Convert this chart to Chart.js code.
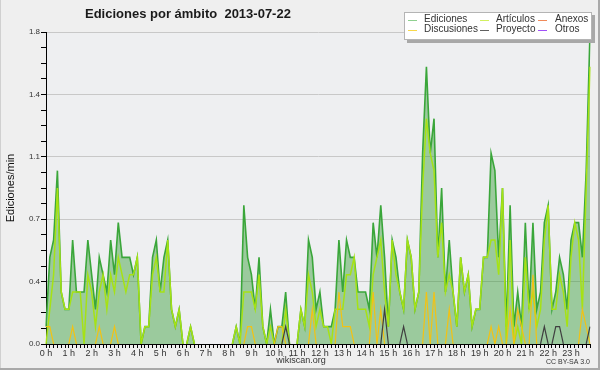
<!DOCTYPE html>
<html>
<head>
<meta charset="utf-8">
<script src="https://cdn.jsdelivr.net/npm/chart.js@4"></script>
<style>
html,body{margin:0;padding:0;background:#efefef;}
#wrap{width:600px;height:370px;position:relative;}
canvas{display:block;}
</style>
</head>
<body>
<div id="wrap"><canvas id="c" width="600" height="370"></canvas></div>
<script>
// ---- data ----
const chartTitle = 'Ediciones por ámbito  2013-07-22';
const yAxisTitle = 'Ediciones/min';
const hourLabels = ['0 h','1 h','2 h','3 h','4 h','5 h','6 h','7 h','8 h','9 h','10 h','11 h',
  '12 h','13 h','14 h','15 h','16 h','17 h','18 h','19 h','20 h','21 h','22 h','23 h'];
const seriesNames = ['Ediciones','Artículos','Anexos','Discusiones','Proyecto','Otros'];

// 10-minute slots (categories)
const slots = [];
for (let h = 0; h < 24; h++) {
  for (let m = 0; m < 60; m += 10) {
    slots.push(String(h).padStart(2,'0') + ':' + String(m).padStart(2,'0'));
  }
}

const ediciones = [
  0.1,0.5,0.6,1.0,0.3,0.2,0.2,0.6,0.3,0.3,0.3,0.6,
  0.4,0.2,0.5,0.4,0.3,0.6,0.4,0.7,0.5,0.5,0.5,0.4,
  0.5,0,0.1,0.1,0.5,0.6,0.3,0.5,0.6,0.2,0.1,0.2,
  0,0,0.1,0,0,0,0,0,0,0,0,0,
  0,0,0.1,0,0.8,0.5,0.4,0.2,0.5,0.1,0,0.2,
  0,0.1,0.1,0.3,0,0,0,0.2,0.1,0.6,0.5,0.2,
  0.3,0.1,0.1,0.1,0.2,0.6,0.3,0.6,0.5,0.5,0.3,0.3,
  0.3,0.2,0.7,0.5,0.8,0.5,0.1,0.6,0.5,0.3,0.2,0.6,
  0.5,0.2,0.3,1.1,1.6,1.1,1.3,0.5,0.9,0.3,0.6,0.3,
  0.1,0.5,0.3,0.4,0.1,0.2,0.2,0.5,0.5,1.1,1.0,0.5,
  0.9,0.1,0.8,0.1,0.3,0.1,0.7,0.2,0.7,0.2,0.3,0.7,
  0.8,0.2,0.3,0.5,0.4,0.2,0.6,0.7,0.7,0.5,1.0,1.8
];
const articulos = [
  0,0.2,0.4,0.9,0.3,0.2,0.2,0.3,0.3,0.3,0,0.4,
  0.3,0.1,0.3,0.4,0.2,0.4,0.3,0.5,0.4,0.3,0.4,0.4,
  0.5,0,0.1,0.1,0.4,0.5,0.3,0.3,0.6,0.2,0.1,0.2,
  0,0,0.1,0,0,0,0,0,0,0,0,0,
  0,0,0.1,0,0.3,0.3,0.3,0.2,0.4,0.1,0,0.1,
  0,0,0,0.2,0,0,0,0.2,0.1,0.4,0.3,0.1,
  0.2,0.1,0.1,0,0.2,0.2,0.2,0.4,0.4,0.5,0.2,0.2,
  0.2,0.1,0.4,0.5,0.6,0.3,0.1,0.6,0.4,0.3,0.2,0.6,
  0.5,0.2,0.3,0.9,1.3,1.1,1.0,0.5,0.7,0.3,0.4,0.3,
  0.1,0.5,0.3,0.4,0.1,0.2,0.2,0.5,0.5,0.6,0.6,0.4,
  0.9,0,0.6,0,0.1,0,0.5,0.2,0.3,0.1,0.2,0.6,
  0.8,0.2,0.2,0.4,0.3,0.1,0.5,0.7,0.6,0.2,0.9,1.6
];
const discusiones = [
  0.1,0.1,0,0,0,0,0,0.1,0,0,0,0,
  0,0,0.1,0,0,0,0.1,0,0,0,0,0,
  0,0,0,0,0,0,0,0,0,0,0,0,
  0,0,0,0,0,0,0,0,0,0,0,0,
  0,0,0,0,0,0.1,0.1,0,0,0,0,0,
  0,0.1,0.1,0,0,0,0,0,0,0,0.2,0,
  0,0,0,0,0,0.3,0.1,0.1,0.1,0,0,0,
  0,0,0.3,0,0.2,0,0,0,0,0,0,0,
  0,0,0,0,0.3,0,0.3,0,0,0,0.2,0,
  0,0,0,0,0,0,0,0,0,0.1,0,0.1,
  0,0,0.2,0,0.2,0.1,0,0,0.4,0,0,0,
  0,0,0,0,0,0,0,0,0,0.2,0.1,0
];
const proyecto = [
  0,0,0,0,0,0,0,0,0,0,0,0,
  0,0,0,0,0,0,0,0,0,0,0,0,
  0,0,0,0,0,0,0,0,0,0,0,0,
  0,0,0,0,0,0,0,0,0,0,0,0,
  0,0,0,0,0,0,0,0,0,0,0,0,
  0,0,0,0.1,0,0,0,0,0,0,0,0,
  0,0,0,0,0,0,0,0,0,0,0,0,
  0,0,0,0,0,0.2,0,0,0,0,0.1,0,
  0,0,0,0,0,0,0,0,0,0,0,0,
  0,0,0,0,0,0,0,0,0,0,0,0,
  0,0,0,0,0,0,0,0,0,0,0,0.1,
  0,0,0.1,0.1,0,0,0,0,0,0,0,0.1
];
const anexos = [
  0,0,0,0,0,0,0,0,0,0,0,0, 0,0,0,0,0,0,0,0,0,0,0,0,
  0,0,0,0,0,0,0,0,0,0,0,0, 0,0,0,0,0,0,0,0,0,0,0,0,
  0,0,0,0,0,0,0,0,0,0,0,0, 0,0,0,0,0,0,0,0,0,0,0,0,
  0,0,0,0,0,0,0,0,0,0,0,0, 0,0,0,0,0,0,0,0,0,0,0,0,
  0,0,0,0,0,0,0,0,0,0,0,0, 0,0,0,0,0,0,0,0,0,0,0,0,
  0,0,0,0,0,0,0,0,0,0,0,0, 0,0,0,0,0,0,0,0,0,0,0,0
];
const otros = [
  0,0,0,0,0,0,0,0,0,0,0,0, 0,0,0,0,0,0,0,0,0,0,0,0,
  0,0,0,0,0,0,0,0,0,0,0,0, 0,0,0,0,0,0,0,0,0,0,0,0,
  0,0,0,0,0,0,0,0,0,0,0,0, 0,0,0,0,0,0,0,0,0,0,0,0,
  0,0,0,0,0,0,0,0,0,0,0,0, 0,0,0,0,0,0,0,0,0,0,0,0,
  0,0,0,0,0,0,0,0,0,0,0,0, 0,0,0,0,0,0,0,0,0,0,0,0,
  0,0,0,0,0,0,0,0,0,0,0,0, 0,0,0,0,0,0,0,0,0,0,0,0
];

// ---- styles ----
const lineColors = {
  'Ediciones':'#3aa63a','Artículos':'#a6e214','Anexos':'#ee7040',
  'Discusiones':'#f2c214','Proyecto':'#404040','Otros':'#9a3cf0'
};
const legendColors = {
  'Ediciones':'#8fd08f','Artículos':'#d2f060','Anexos':'#f08a5a',
  'Discusiones':'#f8d84a','Proyecto':'#606060','Otros':'#a050f8'
};
const hideZero = {
  borderColor: c => (c.p0.parsed.y === 0 && c.p1.parsed.y === 0) ? 'rgba(0,0,0,0)' : undefined
};
function ds(label, data, width, order, extra) {
  return Object.assign({
    label, data, order,
    borderColor: lineColors[label],
    borderWidth: width,
    pointRadius: 0, pointHoverRadius: 0,
    tension: 0, fill: false,
    segment: hideZero
  }, extra || {});
}

const deco = {
  id: 'deco',
  beforeDraw(chart) {
    const {ctx, chartArea: a} = chart;
    ctx.save();
    ctx.fillStyle = '#efefef';
    ctx.fillRect(0, 0, chart.width, chart.height);
    ctx.fillStyle = '#eeeff1';
    ctx.fillRect(a.left, a.top, a.right - a.left, a.bottom - a.top);
    ctx.restore();
  },
  afterDraw(chart) {
    const ctx = chart.ctx;
    ctx.save();
    // title
    ctx.fillStyle = '#1a1a1a';
    ctx.font = 'bold 13px "Liberation Sans", Arial, sans-serif';
    ctx.textBaseline = 'alphabetic';
    ctx.textAlign = 'left';
    ctx.fillText(chartTitle, 85, 18);
    // legend box
    ctx.fillStyle = '#a8a8a8';
    ctx.fillRect(407, 15, 188, 28);
    ctx.fillStyle = '#ffffff';
    ctx.fillRect(404, 12, 188, 28);
    ctx.strokeStyle = '#b4b4b4';
    ctx.lineWidth = 1;
    ctx.strokeRect(404.5, 12.5, 187, 27);
    const colX = [408, 480, 538], txtX = [424, 496, 555], rowY = [19.5, 29.5];
    ctx.font = '10px "Liberation Sans", Arial, sans-serif';
    ctx.textBaseline = 'middle';
    seriesNames.forEach((name, i) => {
      const col = i % 3, row = Math.floor(i / 3);
      ctx.strokeStyle = legendColors[name];
      ctx.beginPath();
      ctx.moveTo(colX[col], Math.round(rowY[row]) + 0.5);
      ctx.lineTo(colX[col] + 9, Math.round(rowY[row]) + 0.5);
      ctx.stroke();
      ctx.fillStyle = '#333';
      ctx.fillText(name, txtX[col], rowY[row]);
    });
    // footer
    ctx.fillStyle = '#333';
    ctx.font = '9px "Liberation Sans", Arial, sans-serif';
    ctx.textAlign = 'center';
    ctx.fillText('wikiscan.org', 301, 361);
    ctx.font = '7px "Liberation Sans", Arial, sans-serif';
    ctx.textAlign = 'right';
    ctx.fillText('CC BY-SA 3.0', 590, 362);
    // frame
    ctx.fillStyle = '#a9a9a9';
    ctx.fillRect(598, 0, 2, 370);
    ctx.fillRect(0, 368, 600, 2);
    ctx.fillStyle = '#d0d0d0';
    ctx.fillRect(0, 0, 1, 368);
    ctx.restore();
  }
};

new Chart(document.getElementById('c'), {
  type: 'line',
  data: {
    labels: slots,
    datasets: [
      ds('Ediciones', ediciones, 1.6, 10, {fill: 'origin', backgroundColor: 'rgba(40,150,40,0.42)'}),
      ds('Artículos', articulos, 1.5, 5),
      ds('Anexos', anexos, 1, 4),
      ds('Discusiones', discusiones, 1.2, 3),
      ds('Proyecto', proyecto, 1.2, 2),
      ds('Otros', otros, 1, 1)
    ]
  },
  options: {
    responsive: false,
    devicePixelRatio: 1,
    animation: false,
    events: [],
    layout: {padding: {top: 32, right: 10, left: 0, bottom: 0}},
    plugins: {legend: {display: false}, title: {display: false}, tooltip: {enabled: false}},
    scales: {
      x: {
        type: 'category',
        offset: false,
        z: 1,
        grid: {drawOnChartArea: false, drawTicks: true, tickLength: 4, tickColor: '#000', tickWidth: 1},
        border: {color: '#000', width: 1},
        ticks: {
          autoSkip: false, maxRotation: 0, minRotation: 0, padding: 0,
          color: '#333', font: {family: 'Liberation Sans', size: 9},
          callback: (v, i) => (i % 6 === 0 ? hourLabels[i / 6] : '')
        },
        afterFit: s => { s.height = 26; }
      },
      y: {
        type: 'linear',
        min: 0, max: 1.8,
        grid: {
          color: c => (c.index % 4 === 0 && c.index > 0) ? '#c8c8c8' : 'rgba(0,0,0,0)',
          tickColor: '#000', tickLength: 5, tickWidth: 1, lineWidth: 1
        },
        border: {color: '#000', width: 1},
        ticks: {
          stepSize: 0.09, autoSkip: false, padding: 1,
          color: '#333', font: {family: 'Liberation Sans', size: 8},
          callback: (v, i) => (i % 4 === 0 ? v.toFixed(1) : '')
        },
        title: {
          display: true, text: yAxisTitle, color: '#111',
          font: {family: 'Liberation Sans', size: 11}, padding: {top: 4, bottom: 0}
        },
        afterFit: s => { s.width = 46; }
      }
    }
  },
  plugins: [deco]
});
</script>
</body>
</html>
